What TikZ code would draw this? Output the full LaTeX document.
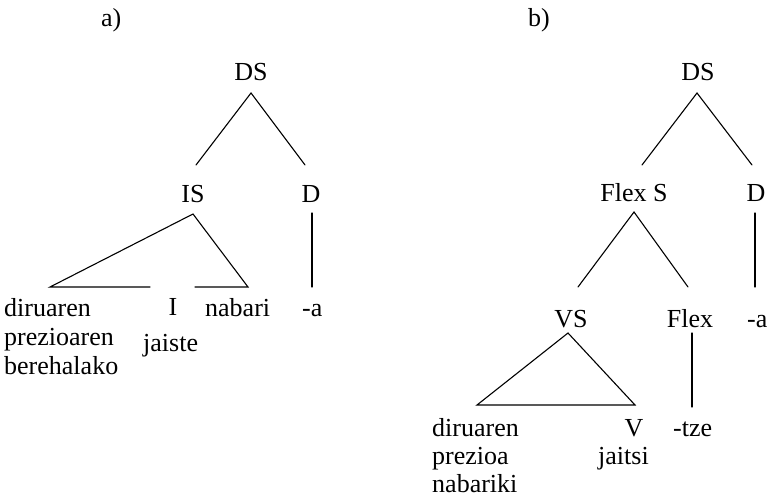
\documentclass[tikz,border=0pt]{standalone}
\usepackage{fontspec}
\setmainfont{Liberation Serif}
\begin{document}
\begin{tikzpicture}[x=1pt,y={(0pt,-1pt)},
  lbl/.style={inner sep=0pt,font=\fontsize{26}{29}\selectfont},
  edge/.style={line width=1.1pt,line cap=round}]
\useasboundingbox (0,0) rectangle (767,497);
% ---------- tree a ----------
\node[lbl,anchor=base west] (la) at (101,27) {a)};
\node[lbl,anchor=base] (aDS) at (251,81) {DS};
\node[lbl,anchor=base] (aIS) at (193,202) {IS};
\node[lbl,anchor=base] (aD) at (311,202) {D};
\node[lbl,anchor=base west] (aw1) at (4,316) {diruaren};
\node[lbl,anchor=base west] (aw2) at (4,345) {prezioaren};
\node[lbl,anchor=base west] (aw3) at (4,374) {berehalako};
\node[lbl,anchor=base] (aI) at (173,315) {I};
\node[lbl,anchor=base west] (aj) at (143,351) {jaiste};
\node[lbl,anchor=base west] (an) at (205,316) {nabari};
\node[lbl,anchor=base west] (aa) at (302,316) {-a};
\coordinate (aDSt) at (251,93);
\coordinate (aISu) at (196,165);
\coordinate (aDu) at (305,165);
\coordinate (aISb) at (193,214);
\coordinate (aTL) at (50,287);
\coordinate (aTg1) at (150,287);
\coordinate (aTg2) at (195,287);
\coordinate (aTR) at (248,287);
\coordinate (aDb) at (312,213);
\coordinate (aab) at (312,287);
\draw[edge] (aISu) -- (aDSt) -- (aDu);
\draw[edge] (aDb) -- (aab);
\draw[edge] (aTg1) -- (aTL) -- (aISb) -- (aTR) -- (aTg2);
% ---------- tree b ----------
\node[lbl,anchor=base west] (lb) at (528,27) {b)};
\node[lbl,anchor=base] (bDS) at (698,81) {DS};
\node[lbl,anchor=base] (bFS) at (634,201) {Flex S};
\node[lbl,anchor=base] (bD) at (756,201) {D};
\node[lbl,anchor=base] (bVS) at (571,327) {VS};
\node[lbl,anchor=base] (bF) at (690,327) {Flex};
\node[lbl,anchor=base west] (ba) at (747,327) {-a};
\node[lbl,anchor=base west] (bw1) at (432,436) {diruaren};
\node[lbl,anchor=base west] (bw2) at (432,464) {prezioa};
\node[lbl,anchor=base west] (bw3) at (432,492) {nabariki};
\node[lbl,anchor=base] (bV) at (634,436) {V};
\node[lbl,anchor=base west] (bj) at (598,464) {jaitsi};
\node[lbl,anchor=base west] (bt) at (673,436) {-tze};
\coordinate (bDSt) at (697,93);
\coordinate (bFSu) at (642,165);
\coordinate (bDu) at (752,165);
\coordinate (bDb) at (755,213);
\coordinate (bab) at (755,287);
\coordinate (bFSb) at (634,212);
\coordinate (bVSu) at (578,287);
\coordinate (bFu) at (688,287);
\coordinate (bFb) at (692,333);
\coordinate (btu) at (692,407);
\coordinate (bVSb) at (568,333);
\coordinate (bTL) at (477,405);
\coordinate (bTR) at (635,405);
\draw[edge] (bFSu) -- (bDSt) -- (bDu);
\draw[edge] (bDb) -- (bab);
\draw[edge] (bVSu) -- (bFSb) -- (bFu);
\draw[edge] (bFb) -- (btu);
\draw[edge,line join=miter] (bTL) -- (bVSb) -- (bTR) -- cycle;
\end{tikzpicture}
\end{document}
